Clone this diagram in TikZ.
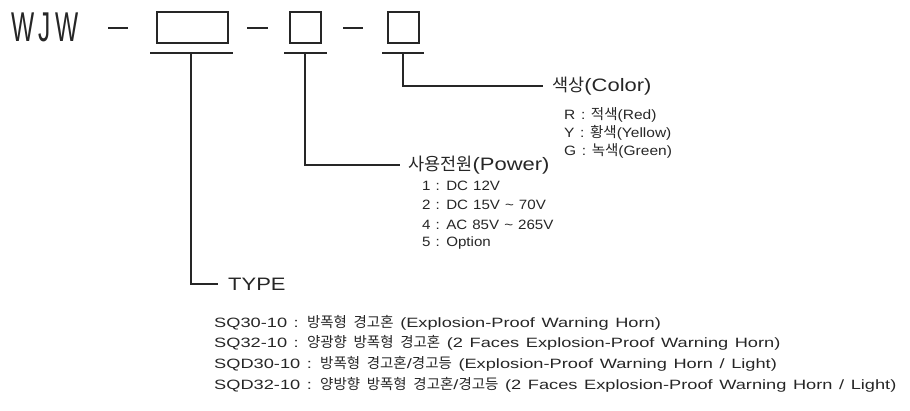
\documentclass[tikz,border=0pt]{standalone}
\usepackage{fontspec}
\setmainfont{Liberation Sans}[FakeStretch=1.15,WordSpace=1.3]
\newfontfamily\headfont{Liberation Sans}[FakeStretch=1.22,WordSpace=1.3]
\newfontfamily\typefont{Liberation Sans}[FakeStretch=1.35,WordSpace=1.3]
\newfontfamily\pwrfont{Liberation Sans}[FakeStretch=1.12,WordSpace=1.2]
\newfontfamily\kr{Noto Sans CJK KR}
\newfontfamily\wjwfont{Liberation Sans}
\newcommand\K[1]{{\kr\fontsize{14.5}{16}\selectfont #1}}
\newcommand\KH[1]{{\kr\fontsize{17.5}{19}\selectfont #1}}
\begin{document}
\begin{tikzpicture}[x=1pt,y=-1pt,
  ln/.style={line width=1.2pt,draw=black!85},
  codebox/.style={draw=black!85,line width=1.2pt,inner sep=0pt,minimum height=31pt},
  head/.style={anchor=west,inner sep=0pt,font=\headfont\fontsize{18}{20}\selectfont,text=black!85},
  item/.style={anchor=west,inner sep=0pt,font=\fontsize{13.5}{15}\selectfont,text=black!85},
  pitem/.style={item,font=\pwrfont\fontsize{13.5}{15}\selectfont},
  titem/.style={item,font=\typefont\fontsize{13.5}{15}\selectfont}]
\useasboundingbox (0,0) rectangle (910,410);
% title and code boxes
\node[anchor=west,inner sep=0pt,yscale=1.7,text=black!85] (wjw) at (11,27.5)
  {\wjwfont\fontsize{24.5}{26}\selectfont W\kern4.5pt J\kern4.5pt W};
\node[codebox,minimum width=71pt] (b1) at (192.5,27.5) {};
\node[codebox,minimum width=31pt] (b2) at (305.5,27.5) {};
\node[codebox,minimum width=31pt] (b3) at (403.5,27.5) {};
% dashes
\coordinate (d1a) at (108,28); \coordinate (d1b) at (128,28);
\coordinate (d2a) at (247,28); \coordinate (d2b) at (268,28);
\coordinate (d3a) at (343,28); \coordinate (d3b) at (363,28);
\draw[ln] (d1a) -- (d1b);
\draw[ln] (d2a) -- (d2b);
\draw[ln] (d3a) -- (d3b);
% underlines
\coordinate (u1a) at (150,53); \coordinate (u1b) at (233,53);
\coordinate (u2a) at (284,53); \coordinate (u2b) at (327,53);
\coordinate (u3a) at (382,53); \coordinate (u3b) at (424,53);
\draw[ln] (u1a) -- (u1b);
\draw[ln] (u2a) -- (u2b);
\draw[ln] (u3a) -- (u3b);
% headings
\node[head] (color) at (552,86) {\KH{색상}(Color)};
\node[head] (power) at (408,165) {\KH{사용전원}(Power)};
\node[head] (type) at (228,284) {TYPE};
% connectors
\coordinate (c3) at (403,53); \coordinate (c3e) at (543,86);
\coordinate (c2) at (305,53); \coordinate (c2e) at (400,165);
\coordinate (c1) at (191,53); \coordinate (c1e) at (218,284);
\draw[ln] (c3) |- (c3e);
\draw[ln] (c2) |- (c2e);
\draw[ln] (c1) |- (c1e);
% colour items
\node[item] (r) at (564,115) {R : \K{적색}(Red)};
\node[item] (y) at (564,133) {Y : \K{황색}(Yellow)};
\node[item] (g) at (564,151) {G : \K{녹색}(Green)};
% power items
\node[pitem] (p1) at (422,186) {1 : DC 12V};
\node[pitem] (p2) at (422,205) {2 : DC 15V \textasciitilde{} 70V};
\node[pitem] (p4) at (422,225) {4 : AC 85V \textasciitilde{} 265V};
\node[pitem] (p5) at (422,243) {5 : Option};
% type items
\node[titem] (t1) at (214,323) {SQ30-10 : \K{방폭형} \K{경고혼} (Explosion-Proof Warning Horn)};
\node[titem] (t2) at (214,343) {SQ32-10 : \K{양광향} \K{방폭형} \K{경고혼} (2 Faces Explosion-Proof Warning Horn)};
\node[titem] (t3) at (214,364) {SQD30-10 : \K{방폭형} \K{경고혼}/\K{경고등} (Explosion-Proof Warning Horn / Light)};
\node[titem] (t4) at (214,385) {SQD32-10 : \K{양방향} \K{방폭형} \K{경고혼}/\K{경고등} (2 Faces Explosion-Proof Warning Horn / Light)};
\end{tikzpicture}
\end{document}
